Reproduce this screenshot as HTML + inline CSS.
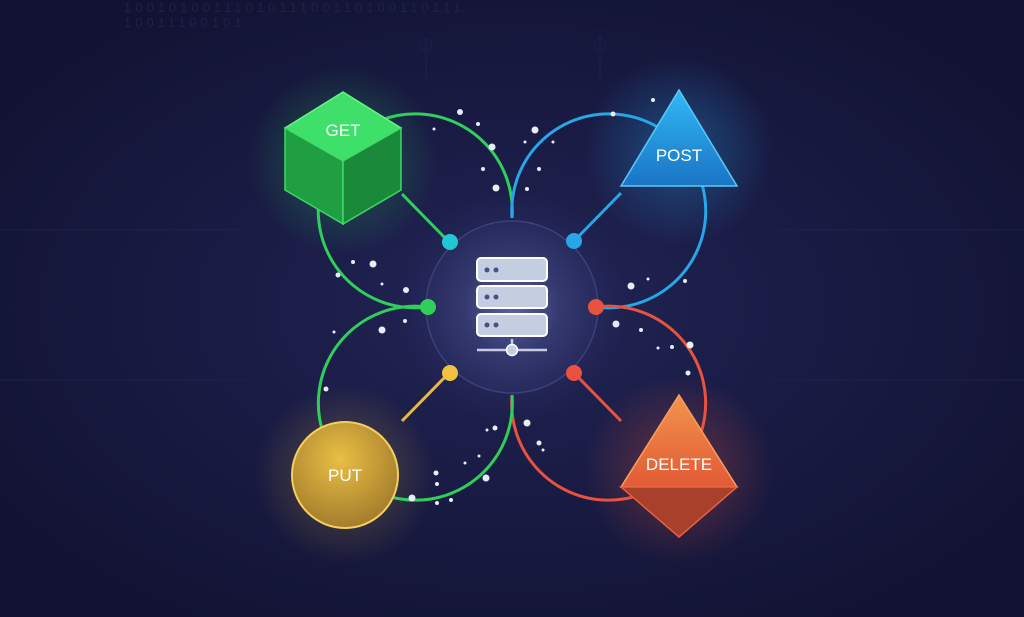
<!DOCTYPE html>
<html><head><meta charset="utf-8"><style>
html,body{margin:0;padding:0;background:#15163a;}
svg{display:block}
text{font-family:"Liberation Sans",sans-serif;}
</style></head><body>
<svg width="1024" height="617" viewBox="0 0 1024 617" xmlns="http://www.w3.org/2000/svg">
<defs>
<radialGradient id="bg" cx="50%" cy="50%" r="60%">
<stop offset="0" stop-color="#222555"/><stop offset="0.5" stop-color="#191b44"/><stop offset="1" stop-color="#121333"/>
</radialGradient>
<radialGradient id="hub" cx="50%" cy="50%" r="50%">
<stop offset="0" stop-color="#5c62a2"/><stop offset="0.55" stop-color="#353970"/><stop offset="1" stop-color="#272a5c"/>
</radialGradient>
<radialGradient id="halo" r="50%"><stop offset="0.6" stop-color="#3a3f80" stop-opacity="0.25"/><stop offset="1" stop-color="#3a3f80" stop-opacity="0"/></radialGradient>
<radialGradient id="gg" r="50%"><stop offset="0" stop-color="#2bd15a" stop-opacity="0.35"/><stop offset="1" stop-color="#2bd15a" stop-opacity="0"/></radialGradient>
<radialGradient id="bgl" r="50%"><stop offset="0" stop-color="#2aa8f0" stop-opacity="0.35"/><stop offset="1" stop-color="#2aa8f0" stop-opacity="0"/></radialGradient>
<radialGradient id="yg" r="50%"><stop offset="0" stop-color="#f0c040" stop-opacity="0.3"/><stop offset="1" stop-color="#f0c040" stop-opacity="0"/></radialGradient>
<radialGradient id="rg" r="50%"><stop offset="0" stop-color="#f05a3a" stop-opacity="0.35"/><stop offset="1" stop-color="#f05a3a" stop-opacity="0"/></radialGradient>
<radialGradient id="put" cx="45%" cy="35%" r="65%"><stop offset="0" stop-color="#e9bf45"/><stop offset="1" stop-color="#a47d2c"/></radialGradient>
<linearGradient id="post" x1="0" y1="0" x2="0" y2="1"><stop offset="0" stop-color="#31b8f5"/><stop offset="1" stop-color="#1a74c4"/></linearGradient>
<linearGradient id="delt" x1="0" y1="0" x2="0" y2="1"><stop offset="0" stop-color="#f3934c"/><stop offset="1" stop-color="#e25a35"/></linearGradient>
</defs>
<rect width="1024" height="617" fill="url(#bg)"/>
<text x="124" y="12" fill="#1f2148" font-size="13" letter-spacing="4">1001010011101011100110100110111</text>
<text x="124" y="27" fill="#1f2148" font-size="13" letter-spacing="4">10011100101</text>
<g stroke="#1e2149" stroke-width="1" fill="none">
<path d="M0 230 H240 M780 230 H1024 M0 380 H250 M770 380 H1024 M426 40 V80 M600 30 V80"/>
<circle cx="426" cy="45" r="6"/><circle cx="600" cy="45" r="6"/>
</g>
<circle cx="343" cy="160" r="95" fill="url(#gg)"/>
<circle cx="679" cy="150" r="95" fill="url(#bgl)"/>
<circle cx="345" cy="475" r="90" fill="url(#yg)"/>
<circle cx="679" cy="470" r="95" fill="url(#rg)"/>
<circle cx="512" cy="307" r="115" fill="url(#halo)"/>
<circle cx="512" cy="307" r="86" fill="url(#hub)" stroke="#3d4178" stroke-width="1.5"/>
<g fill="none" stroke-width="3">
<path d="M512 218 A97 97 0 1 0 428 307" stroke="#2fcf5a"/>
<path d="M512 218 A97 97 0 1 1 596 307" stroke="#27a6e8"/>
<path d="M596 307 A97 97 0 1 1 512 395" stroke="#e8523f"/>
<path d="M428 307 A97 97 0 1 0 512 395" stroke="#2fcf5a"/>
<path d="M402 194 L447 240" stroke="#2fcf5a"/>
<path d="M621 193 L576 239" stroke="#27a6e8"/>
<path d="M402 421 L447 375" stroke="#e8b940"/>
<path d="M621 421 L576 375" stroke="#e8523f"/>
</g>
<circle cx="450" cy="242" r="8" fill="#1fc8d2"/>
<circle cx="574" cy="241" r="8" fill="#27a6e8"/>
<circle cx="450" cy="373" r="8" fill="#f0c040"/>
<circle cx="574" cy="373" r="8" fill="#e8523f"/>
<circle cx="428" cy="307" r="8" fill="#2fcf5a"/>
<circle cx="596" cy="307" r="8" fill="#e8523f"/>
<polygon points="343,92 401,128 343,161 285,128" fill="#3fe06a" stroke="#6bf08c" stroke-width="1.5"/>
<polygon points="285,128 343,161 343,224 285,190" fill="#1f9e42" stroke="#3fd866" stroke-width="1.5"/>
<polygon points="401,128 343,161 343,224 401,190" fill="#1a8a3a" stroke="#3fd866" stroke-width="1.5"/>
<text x="343" y="136" fill="#fff" font-size="17" text-anchor="middle">GET</text>
<polygon points="679,90 737,186 621,186" fill="url(#post)" stroke="#5cc8f8" stroke-width="1.5"/>
<text x="679" y="161" fill="#fff" font-size="17" text-anchor="middle">POST</text>
<circle cx="345" cy="475" r="53" fill="url(#put)" stroke="#f5d060" stroke-width="2"/>
<text x="345" y="481" fill="#fff" font-size="17" text-anchor="middle">PUT</text>
<polygon points="679,395 737,487 621,487" fill="url(#delt)" stroke="#f5a060" stroke-width="1.5"/>
<polygon points="621,487 737,487 679,537" fill="#a8402c" stroke="#e8603f" stroke-width="1.5"/>
<text x="679" y="470" fill="#fff" font-size="17" text-anchor="middle">DELETE</text>
<g stroke="#ffffff" stroke-width="2" fill="#c5cde0">
<rect x="477" y="258" width="70" height="23" rx="4"/>
<rect x="477" y="286" width="70" height="22" rx="4"/>
<rect x="477" y="314" width="70" height="22" rx="4"/>
</g>
<g fill="#4a4f86">
<circle cx="487" cy="270" r="2.5"/><circle cx="496" cy="270" r="2.5"/>
<circle cx="487" cy="297" r="2.5"/><circle cx="496" cy="297" r="2.5"/>
<circle cx="487" cy="325" r="2.5"/><circle cx="496" cy="325" r="2.5"/>
</g>
<path d="M477 350 H547 M512 339 V345" stroke="#c5cde0" stroke-width="2.5"/>
<circle cx="512" cy="350" r="5.5" fill="#c5cde0" stroke="#fff" stroke-width="1.5"/>
<g fill="#e8ecf5">
<circle cx="460" cy="112" r="3"/><circle cx="478" cy="124" r="2"/><circle cx="492" cy="147" r="3.5"/><circle cx="483" cy="169" r="2"/><circle cx="496" cy="188" r="3.5"/><circle cx="434" cy="129" r="1.5"/>
<circle cx="535" cy="130" r="3.5"/><circle cx="525" cy="142" r="1.5"/><circle cx="553" cy="142" r="1.5"/><circle cx="539" cy="169" r="2"/><circle cx="527" cy="189" r="2"/><circle cx="653" cy="100" r="2"/><circle cx="613" cy="114" r="2.5"/>
<circle cx="373" cy="264" r="3.5"/><circle cx="353" cy="262" r="2"/><circle cx="338" cy="275" r="2.5"/><circle cx="382" cy="284" r="1.5"/><circle cx="406" cy="290" r="3"/>
<circle cx="631" cy="286" r="3.5"/><circle cx="648" cy="279" r="1.5"/><circle cx="685" cy="281" r="2"/>
<circle cx="382" cy="330" r="3.5"/><circle cx="405" cy="321" r="2"/><circle cx="334" cy="332" r="1.5"/><circle cx="326" cy="389" r="2.5"/>
<circle cx="616" cy="324" r="3.5"/><circle cx="641" cy="330" r="2"/><circle cx="658" cy="348" r="1.5"/><circle cx="672" cy="347" r="2"/><circle cx="690" cy="345" r="3.5"/><circle cx="688" cy="373" r="2.5"/>
<circle cx="495" cy="428" r="2.5"/><circle cx="487" cy="430" r="1.5"/><circle cx="486" cy="478" r="3.5"/><circle cx="479" cy="456" r="1.5"/><circle cx="465" cy="463" r="1.5"/><circle cx="437" cy="484" r="2"/><circle cx="437" cy="503" r="2"/><circle cx="451" cy="500" r="2"/><circle cx="436" cy="473" r="2.5"/><circle cx="412" cy="498" r="3.5"/>
<circle cx="527" cy="423" r="3.5"/><circle cx="539" cy="443" r="2.5"/><circle cx="543" cy="450" r="1.5"/>
</g>
</svg>
</body></html>
